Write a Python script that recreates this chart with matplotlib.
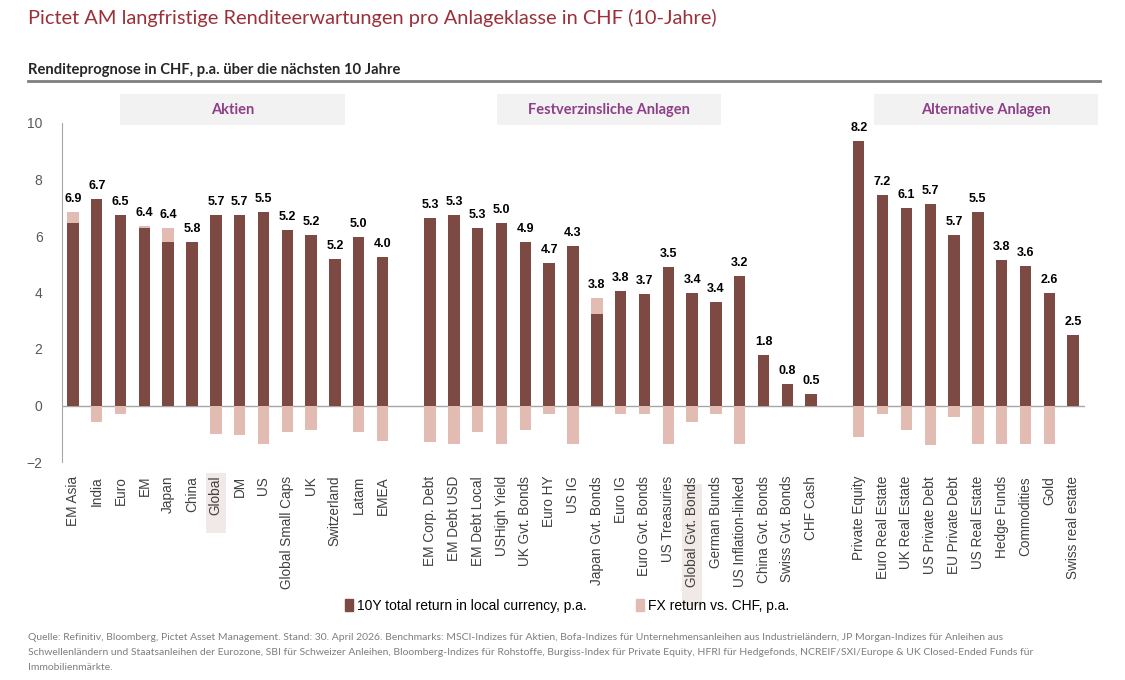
import numpy as np
import matplotlib.pyplot as plt
from matplotlib.patches import Rectangle, Patch
import matplotlib.transforms as mtransforms

# data
aktien = ['EM Asia', 'India', 'Euro', 'EM', 'Japan', 'China', 'Global', 'DM', 'US',
          'Global Small Caps', 'UK', 'Switzerland', 'Latam', 'EMEA']
aktien_local = [6.45, 7.3, 6.75, 6.3, 5.8, 5.8, 6.75, 6.75, 6.85, 6.2, 6.05, 5.2, 5.95, 5.25]
aktien_fx = [0.4, -0.6, -0.3, 0.05, 0.5, -0.02, -1.0, -1.05, -1.35, -0.95, -0.85, 0.0, -0.95, -1.25]
aktien_lbl = [6.9, 6.7, 6.5, 6.4, 6.4, 5.8, 5.7, 5.7, 5.5, 5.2, 5.2, 5.2, 5.0, 4.0]

bonds = ['EM Corp. Debt', 'EM Debt USD', 'EM Debt Local', 'USHigh Yield', 'UK Gvt. Bonds',
         'Euro HY', 'US IG', 'Japan Gvt. Bonds', 'Euro IG', 'Euro Gvt. Bonds', 'US Treasuries',
         'Global Gvt. Bonds', 'German Bunds', 'US Inflation-linked', 'China Gvt. Bonds',
         'Swiss Gvt. Bonds', 'CHF Cash']
bonds_local = [6.65, 6.75, 6.3, 6.45, 5.8, 5.05, 5.65, 3.25, 4.05, 3.95, 4.9, 4.0, 3.65, 4.6,
               1.8, 0.75, 0.42]
bonds_fx = [-1.3, -1.35, -0.95, -1.35, -0.85, -0.3, -1.35, 0.55, -0.3, -0.3, -1.35, -0.6,
            -0.3, -1.35, -0.03, 0.0, 0.0]
bonds_lbl = [5.3, 5.3, 5.3, 5.0, 4.9, 4.7, 4.3, 3.8, 3.8, 3.7, 3.5, 3.4, 3.4, 3.2, 1.8, 0.8, 0.5]

alts = ['Private Equity', 'Euro Real Estate', 'UK Real Estate', 'US Private Debt',
        'EU Private Debt', 'US Real Estate', 'Hedge Funds', 'Commodities', 'Gold',
        'Swiss real estate']
alts_local = [9.35, 7.45, 7.0, 7.15, 6.05, 6.85, 5.15, 4.95, 4.0, 2.5]
alts_fx = [-1.1, -0.3, -0.85, -1.4, -0.4, -1.35, -1.35, -1.35, -1.35, 0.0]
alts_lbl = [8.2, 7.2, 6.1, 5.7, 5.7, 5.5, 3.8, 3.6, 2.6, 2.5]

group_names = ['Aktien', 'Festverzinsliche Anlagen', 'Alternative Anlagen']
highlight = ['Global', 'Global Gvt. Bonds']

DARK = '#7d4a43'
LIGHT = '#e2bbb2'
GREY = '#595959'

cats = aktien + bonds + alts
local = np.array(aktien_local + bonds_local + alts_local)
fx = np.array(aktien_fx + bonds_fx + alts_fx)
lbls = aktien_lbl + bonds_lbl + alts_lbl

# one empty slot between groups
x = np.concatenate([np.arange(len(aktien)),
                    np.arange(len(bonds)) + len(aktien) + 1,
                    np.arange(len(alts)) + len(aktien) + len(bonds) + 2])

fig = plt.figure(figsize=(11.25, 6.8), dpi=100)
ax = fig.add_axes([62/1125, 1-462/680, 1023/1125, 339/680])

w = 0.48
ax.bar(x, local, width=w, color=DARK, zorder=3)
fx_bottom = np.where(fx > 0, local, 0)
ax.bar(x, fx, bottom=fx_bottom, width=w, color=LIGHT, zorder=3)

for xi, top, lb in zip(x, local + np.clip(fx, 0, None), lbls):
    ax.annotate(f'{lb:.1f}', (xi, top), xytext=(0, 5), textcoords='offset points',
                ha='center', va='bottom', fontsize=9, fontweight='bold',
                family='Liberation Sans', color='black')

ax.axhline(0, color='#a6a6a6', lw=1, zorder=2)
ax.set_xlim(-0.46, x[-1] + 0.5)
ax.set_ylim(-2, 10)
ax.set_yticks(range(-2, 11, 2))
ax.tick_params(axis='y', length=0, pad=14, labelsize=10, labelcolor=GREY)
ax.set_xticks(x)
ax.set_xticklabels(cats, rotation=90, fontsize=9.8, color='#404040', family='Liberation Sans')
ax.tick_params(axis='x', length=0, pad=10)
for t in ax.get_yticklabels():
    t.set_family('Liberation Sans')
for s in ['top', 'right', 'bottom']:
    ax.spines[s].set_visible(False)
ax.spines['left'].set_color('#a6a6a6')

# shaded boxes behind highlighted tick labels
trans = mtransforms.blended_transform_factory(ax.transData, fig.transFigure)
box_len = {'Global': (473, 533), 'Global Gvt. Bonds': (484, 606)}
for name in highlight:
    xi = x[cats.index(name)]
    y0, y1 = box_len[name]
    ax.add_patch(Rectangle((xi - 0.42, 1 - y1/680), 0.84, (y1 - y0)/680,
                           transform=trans, facecolor='#f1e8e8', edgecolor='none',
                           zorder=0.5, clip_on=False))

# group header boxes
headers = [(120, 345), (497, 721), (874, 1098)]
for (x0, x1), g in zip(headers, group_names):
    fig.patches.append(Rectangle((x0/1125, 1-125/680), (x1-x0)/1125, 31/680,
                                 transform=fig.transFigure, facecolor='#f2f2f2',
                                 edgecolor='none', zorder=0))
    fig.text((x0+x1)/2/1125, 1-110/680, g, ha='center', va='center', fontsize=10.5,
             fontweight='bold', color='#8e3f88', family='Lato')

# titles
fig.text(28/1125, 1-18/680, 'Pictet AM langfristige Renditeerwartungen pro Anlageklasse in CHF (10-Jahre)',
         ha='left', va='center', fontsize=14.4, color='#9b3039', family='Lato')
fig.text(28/1125, 1-70/680, 'Renditeprognose in CHF, p.a. über die nächsten 10 Jahre',
         ha='left', va='center', fontsize=10.6, fontweight='bold', color='#262626', family='Lato')
fig.add_artist(plt.Line2D([28/1125, 1100/1125], [1-81/680, 1-81/680], color='#7f7f7f', lw=2,
                          transform=fig.transFigure))

handles = [Patch(color=DARK, label='10Y total return in local currency, p.a.'),
           Patch(color=LIGHT, label='FX return vs. CHF, p.a.')]
fig.legend(handles=handles, loc='center', bbox_to_anchor=(567/1125, 1-606/680), ncol=2,
           frameon=False, handlelength=0.6, handleheight=0.9, handletextpad=0.3,
           columnspacing=3.5, prop={'family': 'Liberation Sans', 'size': 10})

foot = ['Quelle: Refinitiv, Bloomberg, Pictet Asset Management. Stand: 30. April 2026. Benchmarks: MSCI-Indizes für Aktien, Bofa-Indizes für Unternehmensanleihen aus Industrieländern, JP Morgan-Indizes für Anleihen aus',
        'Schwellenländern und Staatsanleihen der Eurozone, SBI für Schweizer Anleihen, Bloomberg-Indizes für Rohstoffe, Burgiss-Index für Private Equity, HFRI für Hedgefonds, NCREIF/SXI/Europe & UK Closed-Ended Funds für',
        'Immobilienmärkte.']
for i, line in enumerate(foot):
    fig.text(28/1125, 1-(638 + i*14.5)/680, line, ha='left', va='center', fontsize=7.5,
             color='#7f7f7f', family='Lato')

fig.savefig('out.png', dpi=100)
